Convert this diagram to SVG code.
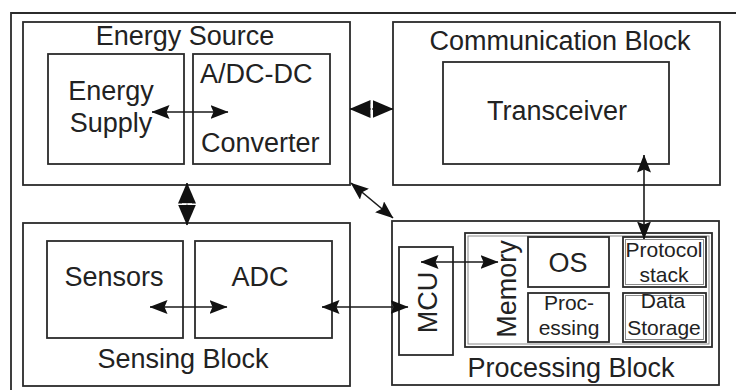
<svg xmlns="http://www.w3.org/2000/svg" width="736" height="390" viewBox="0 0 736 390">
<style>
  .box{fill:none;stroke:#2b2b2b;stroke-width:1.8}
  .inner{fill:none;stroke:#8a8a8a;stroke-width:1}
  .t{font-family:"Liberation Sans",Arial,sans-serif;font-size:27px;fill:#222}
  .s{font-family:"Liberation Sans",Arial,sans-serif;font-size:21px;fill:#222}
  .c{text-anchor:middle}
  .ln{stroke:#1a1a1a;stroke-width:1.6;fill:none}
  .slit{stroke:#fff;stroke-width:1.4}
</style>
<defs>
  <marker id="ah" viewBox="0 0 18 14" refX="17.5" refY="7" markerWidth="18" markerHeight="14" markerUnits="userSpaceOnUse" orient="auto-start-reverse">
    <path d="M0,0 L18,7 L0,14 L3,7 Z" fill="#111"/>
  </marker>
  <marker id="big" viewBox="0 0 21 18" refX="20.5" refY="9" markerWidth="21" markerHeight="18" markerUnits="userSpaceOnUse" orient="auto-start-reverse">
    <path d="M0,0 L21,9 L0,18 Z" fill="#111"/>
  </marker>
</defs>
<rect width="736" height="390" fill="#fff"/>
<g id="frame">
  <path d="M11,390 V13 H736" class="box" stroke-width="2.2"/>
</g>
<g id="energy-source">
  <rect x="23" y="22" width="327" height="163" class="box"/>
  <text x="185" y="45" class="t c">Energy Source</text>
</g>
<g id="energy-supply">
  <rect x="48" y="54" width="136" height="110" class="box"/>
  <text x="111" y="100" class="t c">Energy</text>
  <text x="111" y="132" class="t c">Supply</text>
</g>
<g id="converter">
  <rect x="193" y="54" width="137" height="110" class="box"/>
  <text x="200" y="83" class="t">A/DC-DC</text>
  <text x="201" y="152" class="t">Converter</text>
</g>
<g id="communication-block">
  <rect x="393" y="22" width="327" height="163" class="box"/>
  <text x="560" y="50" class="t c">Communication Block</text>
</g>
<g id="transceiver">
  <rect x="443" y="62" width="226" height="102" class="box"/>
  <text x="557" y="120" class="t c">Transceiver</text>
</g>
<g id="sensing-block">
  <rect x="23" y="223" width="327" height="163" class="box"/>
  <text x="183" y="368" class="t c">Sensing Block</text>
</g>
<g id="sensors">
  <rect x="47" y="241" width="136" height="97" class="box"/>
  <text x="114" y="286" class="t c">Sensors</text>
</g>
<g id="adc">
  <rect x="195" y="241" width="137" height="97" class="box"/>
  <text x="260" y="286" class="t c">ADC</text>
</g>
<g id="processing-block">
  <rect x="392" y="221" width="327" height="164" class="box"/>
  <text x="571" y="377" class="t c">Processing Block</text>
</g>
<g id="mcu">
  <rect x="399" y="247" width="54" height="108" class="box"/>
  <text transform="translate(437,302.5) rotate(-90)" class="t c">MCU</text>
</g>
<g id="memory">
  <rect x="465" y="233" width="247" height="114" class="box"/>
  <rect x="468" y="236" width="241" height="108" class="inner"/>
  <text transform="translate(516,289) rotate(-90)" class="t c">Memory</text>
</g>
<g id="os">
  <rect x="528" y="237" width="81" height="50" class="box"/>
  <text x="568" y="272" class="t c">OS</text>
</g>
<g id="protocol-stack">
  <rect x="623" y="237" width="83" height="50" class="box"/>
  <rect x="625.5" y="239.5" width="78" height="45" class="inner"/>
  <text x="664" y="257" class="s c">Protocol</text>
  <text x="664" y="282" class="s c">stack</text>
</g>
<g id="processing">
  <rect x="528" y="293" width="81" height="49" class="box"/>
  <text x="569" y="310" class="s c">Proc-</text>
  <text x="569" y="335" class="s c">essing</text>
</g>
<g id="data-storage">
  <rect x="623" y="293" width="83" height="49" class="box"/>
  <rect x="625.5" y="295.5" width="78" height="44" class="inner"/>
  <text x="663" y="308" class="s c">Data</text>
  <text x="664" y="335" class="s c">Storage</text>
</g>
<g id="connectors">
  <line x1="152" y1="112" x2="228" y2="112" class="ln" marker-start="url(#ah)" marker-end="url(#ah)"/>
  <line x1="350" y1="109" x2="393" y2="109" class="ln" marker-start="url(#big)" marker-end="url(#big)"/>
  <line x1="371.5" y1="104" x2="371.5" y2="114" class="slit"/>
  <line x1="187" y1="183" x2="187" y2="225" class="ln" marker-start="url(#big)" marker-end="url(#big)"/>
  <line x1="182" y1="204" x2="192" y2="204" class="slit"/>
  <line x1="351" y1="183" x2="393" y2="218" class="ln" marker-start="url(#ah)" marker-end="url(#ah)"/>
  <line x1="150" y1="307" x2="227" y2="307" class="ln" marker-start="url(#ah)" marker-end="url(#ah)"/>
  <line x1="322" y1="307" x2="408" y2="307" class="ln" marker-start="url(#ah)" marker-end="url(#ah)"/>
  <line x1="421" y1="262" x2="498" y2="262" class="ln" marker-start="url(#ah)" marker-end="url(#ah)"/>
  <line x1="644" y1="155" x2="644" y2="239" class="ln" marker-start="url(#ah)" marker-end="url(#ah)"/>
</g>
</svg>
